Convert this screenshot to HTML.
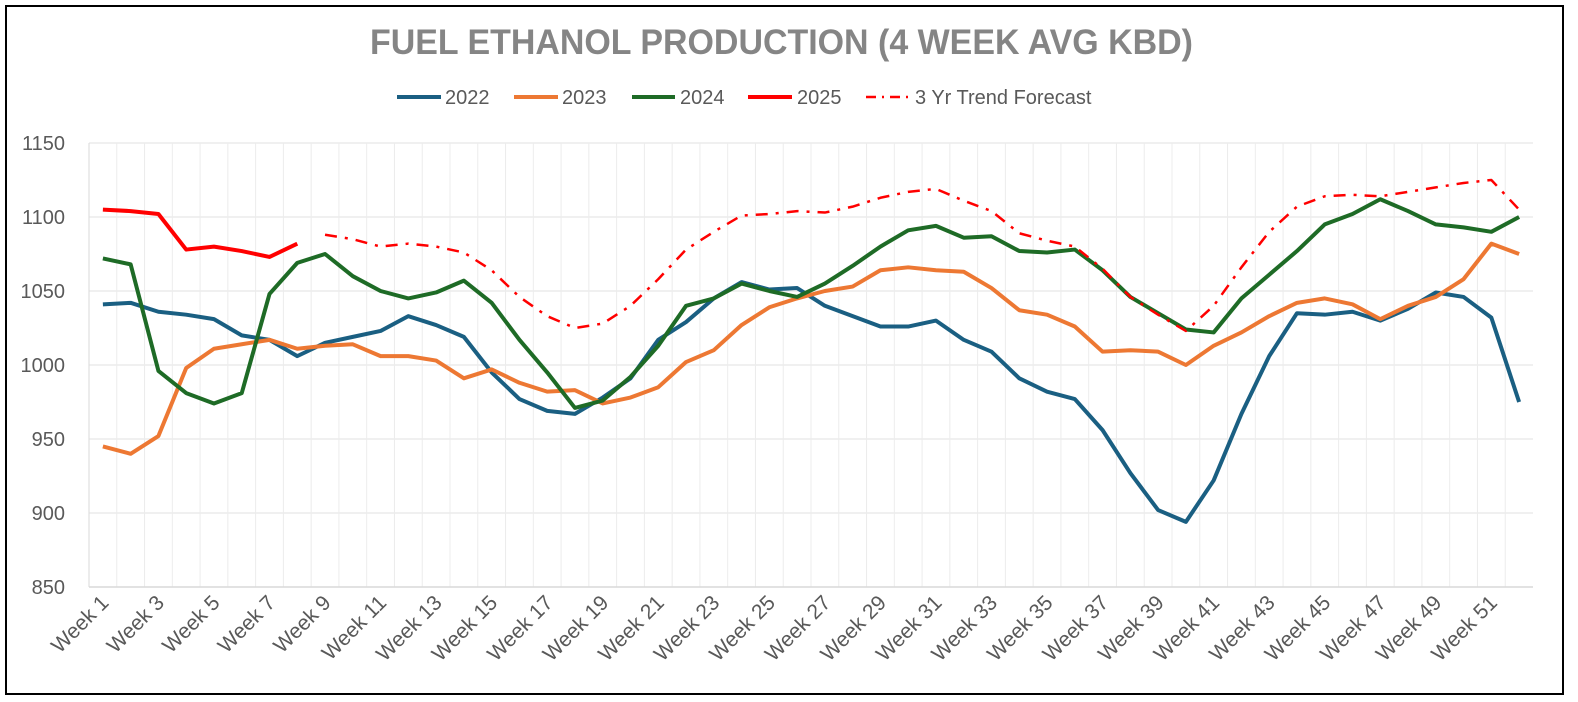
<!DOCTYPE html>
<html><head><meta charset="utf-8"><style>
html,body{margin:0;padding:0;background:#fff;}
svg{display:block;font-family:"Liberation Sans",sans-serif;}
</style></head><body>
<svg id="chart" width="1578" height="702" viewBox="0 0 1578 702">
<rect x="6" y="6" width="1557" height="688" fill="#fff" stroke="#000" stroke-width="2"/>
<text x="370" y="54" textLength="823" lengthAdjust="spacingAndGlyphs" font-size="35" font-weight="bold" fill="#858585">FUEL ETHANOL PRODUCTION (4 WEEK AVG KBD)</text>
<g id="legend">
<line x1="397" y1="97" x2="441" y2="97" stroke="#1a5f82" stroke-width="4"/>
<text x="445" y="104" font-size="20" fill="#595959">2022</text>
<line x1="514" y1="97" x2="558" y2="97" stroke="#ed7833" stroke-width="4"/>
<text x="562" y="104" font-size="20" fill="#595959">2023</text>
<line x1="632" y1="97" x2="675" y2="97" stroke="#1e6b26" stroke-width="4"/>
<text x="680" y="104" font-size="20" fill="#595959">2024</text>
<line x1="748" y1="97" x2="792" y2="97" stroke="#ff0000" stroke-width="4"/>
<text x="797" y="104" font-size="20" fill="#595959">2025</text>
<line x1="866" y1="97" x2="910" y2="97" stroke="#ff0000" stroke-width="2.5" stroke-dasharray="10,6,2,6"/>
<text x="915" y="104" font-size="20" fill="#595959">3 Yr Trend Forecast</text>
</g>
<g id="grid"></g>
<g id="axes"></g>
<g id="series"></g>
</svg>
<script>
const weeks = Array.from({length:52},(_,i)=>'Week '+(i+1));
const yTicks = [850,900,950,1000,1050,1100,1150];
const s2022 = [1041,1042,1036,1034,1031,1020,1017,1006,1015,1019,1023,1033,1027,1019,995,977,969,967,978,991,1017,1029,1045,1056,1051,1052,1040,1033,1026,1026,1030,1017,1009,991,982,977,956,927,902,894,922,967,1006,1035,1034,1036,1030,1038,1049,1046,1032,975];
const s2023 = [945,940,952,998,1011,1014,1017,1011,1013,1014,1006,1006,1003,991,997,988,982,983,974,978,985,1002,1010,1027,1039,1045,1050,1053,1064,1066,1064,1063,1052,1037,1034,1026,1009,1010,1009,1000,1013,1022,1033,1042,1045,1041,1031,1040,1046,1058,1082,1075];
const s2024 = [1072,1068,996,981,974,981,1048,1069,1075,1060,1050,1045,1049,1057,1042,1017,995,971,976,992,1013,1040,1045,1055,1050,1046,1055,1067,1080,1091,1094,1086,1087,1077,1076,1078,1064,1046,1035,1024,1022,1045,1061,1077,1095,1102,1112,1104,1095,1093,1090,1100];
const s2025 = [1105,1104,1102,1078,1080,1077,1073,1082];
const forecastStart = 9;
const sForecast = [1088,1085,1080,1082,1080,1076,1064,1046,1033,1025,1028,1040,1058,1078,1090,1101,1102,1104,1103,1107,1113,1117,1119,1111,1104,1089,1084,1080,1065,1046,1034,1023,1040,1066,1090,1107,1114,1115,1114,1117,1120,1123,1125,1105];

const NS='http://www.w3.org/2000/svg';
const L=89,R=1533,T=143,B=587,ymin=850,ymax=1150;
const bw=(R-L)/weeks.length;
const x=i=>L+bw*(i+0.5);
const y=v=>B-(v-ymin)/(ymax-ymin)*(B-T);
function mk(tag,attrs,parent){const e=document.createElementNS(NS,tag);for(const k in attrs)e.setAttribute(k,attrs[k]);parent.appendChild(e);return e;}
const grid=document.getElementById('grid'),axes=document.getElementById('axes'),series=document.getElementById('series');
for(let i=1;i<weeks.length;i++){
  const g=mk('line',{x1:L+bw*i,x2:L+bw*i,y1:T,y2:B,stroke:'#ececec','stroke-width':1},grid);
  
  
}
yTicks.forEach(t=>{
  const g=mk('line',{x1:L,x2:R,y1:y(t),y2:y(t),stroke:t===ymin?'#d9d9d9':'#ececec','stroke-width':1.5},grid);
  
  
  const tx=mk('text',{x:65,y:y(t)+7,'text-anchor':'end','font-size':20,fill:'#595959'},axes);
  tx.textContent=t;
  
  
});
const la=mk('line',{x1:L,x2:L,y1:T,y2:B,stroke:'#d9d9d9','stroke-width':1},grid);


weeks.forEach((w,i)=>{
  if(i%2)return;
  const tx=mk('text',{'text-anchor':'end','font-size':21,fill:'#595959',transform:`translate(${x(i)+7},604) rotate(-45)`},axes);
  tx.textContent=w;
  
  
});
function line(data,start,color,w,dash,name){
  const pts=data.map((v,i)=>x(i+start)+','+y(v)).join(' ');
  const p=mk('polyline',{points:pts,fill:'none',stroke:color,'stroke-width':w,'stroke-linejoin':'round'},series);
  if(dash)p.setAttribute('stroke-dasharray',dash);
  
  
}
line(s2022,0,'#1a5f82',4,null,'series-2022');
line(s2023,0,'#ed7833',4,null,'series-2023');
line(s2024,0,'#1e6b26',4,null,'series-2024');
line(s2025,0,'#ff0000',4,null,'series-2025');
line(sForecast,forecastStart-1,'#ff0000',2.5,'12,8,3,8','series-forecast');
</script>
</body></html>
